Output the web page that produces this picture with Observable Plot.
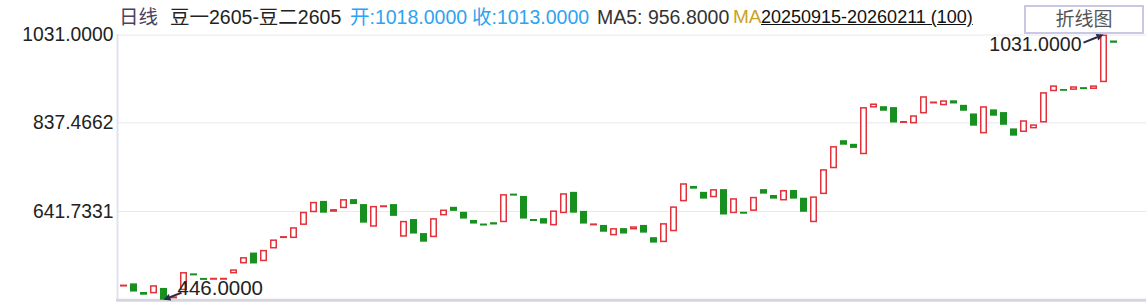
<!DOCTYPE html>
<html><head><meta charset="utf-8">
<script src="https://cdn.jsdelivr.net/npm/d3@7"></script>
<script src="https://cdn.jsdelivr.net/npm/@observablehq/plot@0.6"></script>
<style>
body{margin:0;background:#fff;font-family:"Liberation Sans","Noto Sans CJK SC",sans-serif;}
#wrap{position:relative;width:1146px;height:302px;overflow:hidden;}
#wrap svg{position:absolute;left:0;top:0;}
.h{position:absolute;top:5px;font-size:19.5px;line-height:24px;white-space:nowrap;}
#btn{position:absolute;left:1024px;top:5px;width:116px;height:25px;border:2px solid #c9c9e3;background:#fff;color:#555;font-size:19px;line-height:25px;text-align:center;}
</style></head>
<body><div id="wrap"></div>
<script>
// ---- data ----
const open = [
478, 482, 463, 460, 472, 452, 467, 503.4, 493.3, 493,
493, 504, 526, 550, 531, 559, 585, 582, 611, 639,
664, 640, 648, 668, 657, 607, 653, 657, 585, 624,
593, 584, 632, 651, 640, 622, 613.3, 617, 617, 679.3,
675, 623.3, 626, 610, 637, 684, 642, 613, 611, 588,
604, 601, 611, 584, 573, 597, 663, 697, 684, 672,
690, 637, 639.3, 642, 690, 677, 665, 688, 671, 617,
679, 736, 798, 790, 767, 870, 873, 871, 839, 835,
857, 882, 875, 886, 876, 857, 813, 866, 860, 824,
816, 824, 837, 906, 911, 909, 914.3, 911, 926, 1018
];
const close = [
478.3, 464, 457, 478, 446, 452.3, 507, 503, 493, 493.3,
493.3, 513, 540, 526, 556, 579, 585.3, 606, 640, 662,
638, 646, 668, 657, 616, 653, 653.3, 631, 620, 592,
574, 626, 645, 642, 625, 614, 613, 612, 679, 679,
625, 623, 614, 643, 681, 638, 614, 613.3, 596, 604,
592, 608, 594, 572, 615, 652, 703, 691, 669, 690,
634, 670, 639, 673, 680, 669, 688, 669, 640, 674,
734, 785, 788, 781, 871, 879, 863, 837, 839.3, 853,
895, 882.3, 886, 879, 863, 830, 873, 852, 832, 808,
842, 833, 904, 919, 907, 917, 914, 919, 1031, 1013
];
const yTicks = [641.7331, 837.4662, 1031.0000];
const yDomain = [446, 1031];
const headerTexts = ["日线", "豆一2605-豆二2605", "开:1018.0000", "收:1013.0000", "MA5: 956.8000", "MA", "20250915-20260211 (100)"];
const buttonText = "折线图";

// ---- styles ----
const RED = "#e2323b", GREEN = "#17901f";
const headerStyle = [
  {left:119, color:"#4a4262"},
  {left:170, color:"#222"},
  {left:350, color:"#2ea3f0"},
  {left:472, color:"#2ea3f0"},
  {left:597, color:"#333"},
  {left:733, color:"#c9a227", size:19},
  {left:761, color:"#111", deco:"underline", size:18}
];

const data = open.map((o, i) => ({i, open: o, close: close[i]}));
const isDoji = d => Math.abs(d.close - d.open) < 1;
const up = d => d.close >= d.open;

const chart = Plot.plot({
  width: 1146, height: 302,
  marginLeft: 117, marginRight: 0, marginTop: 34.6, marginBottom: 2.3,
  style: {fontFamily: '"Liberation Sans","Noto Sans CJK SC",sans-serif', background: "transparent"},
  x: {type: "band", domain: d3.range(open.length), range: [120, 1117], paddingInner: 0.3, paddingOuter: 0, align: 0, axis: null},
  y: {domain: yDomain, axis: null},
  marks: [
    Plot.ruleY(yTicks, {stroke: "#e8e8f1", strokeWidth: 1}),
    Plot.frame({anchor: "left", stroke: "#e2e2ef", strokeWidth: 2}),
    Plot.frame({anchor: "bottom", stroke: "#d6d6e2", strokeWidth: 3}),
    Plot.axisY(yTicks, {tickSize: 0, tickPadding: 4, tickFormat: d3.format(".4f"), fontSize: 19.3, fill: "#222"}),
    Plot.barY(data.filter(d => !isDoji(d) && !up(d)), {x: "i", y1: "open", y2: "close", fill: GREEN}),
    Plot.barY(data.filter(d => !isDoji(d) && up(d)), {x: "i", y1: "open", y2: "close", fill: "white", stroke: RED, strokeWidth: 1.5, inset: 0.75}),
    Plot.tickY(data.filter(isDoji), {x: "i", y: "close", stroke: d => up(d) ? RED : GREEN, strokeWidth: 2})
  ]
});

const wrap = document.getElementById("wrap");
wrap.appendChild(chart);

// annotations for max / min, positioned via the chart's scales
const xs = chart.scale("x"), ys = chart.scale("y");
const svg = d3.select(chart);
const iMax = d3.maxIndex(close), iMin = d3.minIndex(close);
function annotate(i, v, label, side, fs) {
  const cx = xs.apply(i) + xs.bandwidth / 2, cy = ys.apply(v);
  const g = svg.append("g");
  let x0, y0, tx, ty, anchor;
  if (side === "left") { x0 = cx - 20; y0 = cy + 8; tx = cx - 22; ty = cy + 10; anchor = "end"; }
  else { x0 = cx + 18; y0 = cy - 7; tx = cx + 14; ty = cy - 12; anchor = "start"; }
  const x1 = cx, y1 = cy;
  const ang = Math.atan2(y1 - y0, x1 - x0);
  const hl = 7, hw = 3.5;
  const bx = x1 - hl * Math.cos(ang), by = y1 - hl * Math.sin(ang);
  g.append("line").attr("x1", x0).attr("y1", y0).attr("x2", bx).attr("y2", by)
    .attr("stroke", "#2b2b48").attr("stroke-width", 2);
  g.append("path").attr("d", `M${x1},${y1}L${bx - hw*Math.sin(ang)},${by + hw*Math.cos(ang)}L${bx + hw*Math.sin(ang)},${by - hw*Math.cos(ang)}Z`)
    .attr("fill", "#2b2b48");
  g.append("text").attr("x", tx).attr("y", ty).attr("dy", "0.35em").attr("text-anchor", anchor)
    .attr("font-size", fs).attr("fill", "#222").text(label);
}
annotate(iMax, close[iMax], d3.format(".4f")(close[iMax]), "left", 19.5);
annotate(iMin, close[iMin], d3.format(".4f")(close[iMin]), "right", 20.5);

// header
headerTexts.forEach((t, k) => {
  const s = document.createElement("span");
  s.className = "h";
  s.textContent = t;
  s.style.left = headerStyle[k].left + "px";
  s.style.color = headerStyle[k].color;
  if (headerStyle[k].size) s.style.fontSize = headerStyle[k].size + "px";
  if (headerStyle[k].deco) s.style.textDecoration = headerStyle[k].deco;
  wrap.appendChild(s);
});
const b = document.createElement("div");
b.id = "btn"; b.textContent = buttonText;
wrap.appendChild(b);
</script></body></html>
